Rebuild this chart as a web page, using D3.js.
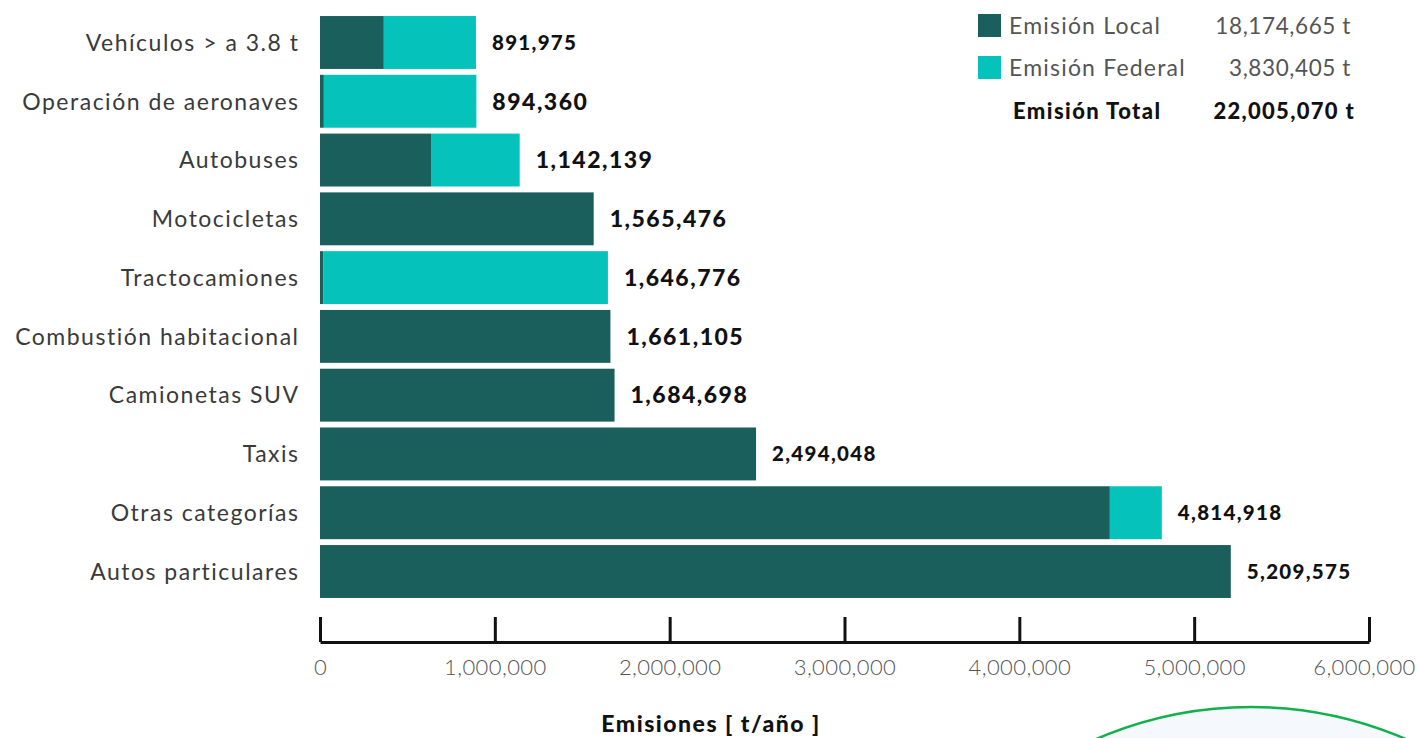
<!DOCTYPE html>
<html>
<head>
<meta charset="utf-8">
<script src="https://cdn.jsdelivr.net/npm/d3@7"></script>
<style>
  body { margin: 0; background: #fff; }
  svg { display: block; font-family: Lato, 'Open Sans', sans-serif; }
</style>
</head>
<body>
<div id="chart"></div>
<script>
// categorías, de arriba hacia abajo
const categories = [
  'Vehículos > a 3.8 t',
  'Operación de aeronaves',
  'Autobuses',
  'Motocicletas',
  'Tractocamiones',
  'Combustión habitacional',
  'Camionetas SUV',
  'Taxis',
  'Otras categorías',
  'Autos particulares'
]

// emisión total por categoría (t/año), tal como aparece en las etiquetas
const totals = [891975, 894360, 1142139, 1565476, 1646776, 1661105, 1684698, 2494048, 4814918, 5209575]

const localValues = [365000, 22000, 635000, 1565476, 20000, 1661105, 1684698, 2494048, 4517763, 5209575]
const federalValues = [526975, 872360, 507139, 0, 1626776, 0, 0, 0, 297155, 0]

const xTicks = [0, 1000000, 2000000, 3000000, 4000000, 5000000, 6000000]

const seriesNames = ['Emisión Local', 'Emisión Federal']
const colors = ['#1a5f5b', '#05c2ba']

// etiquetas que se ven con letra un poco más grande
const bigLabels = new Set(['Operación de aeronaves', 'Autobuses', 'Motocicletas', 'Tractocamiones', 'Combustión habitacional', 'Camionetas SUV'])

const W = 1419
const H = 738

const svg = d3.select('#chart')
  .append('svg')
  .attr('width', W)
  .attr('height', H)

// círculo decorativo de la esquina
svg.append('circle')
  .attr('cx', 1251)
  .attr('cy', 1097)
  .attr('r', 390)
  .attr('fill', '#f5f9fd')
  .attr('stroke', '#12b04c')
  .attr('stroke-width', 2.5)

const x = d3.scaleLinear()
  .domain([0, 6000000])
  .range([320, 1369])

const y = d3.scaleBand()
  .domain(categories)
  .range([13.1, 600.9])
  .paddingInner(0.1)
  .paddingOuter(0.05)

const rows = categories.map((c, i) => ({ category: c, local: localValues[i], federal: federalValues[i], total: totals[i] }))

const stacked = d3.stack().keys(['local', 'federal'])(rows)

// barras apiladas
svg.append('g')
  .selectAll('g')
  .data(stacked)
  .join('g')
  .attr('fill', (d, i) => colors[i])
  .selectAll('rect')
  .data(d => d)
  .join('rect')
  .attr('x', d => x(d[0]))
  .attr('y', d => y(d.data.category))
  .attr('width', d => x(d[1]) - x(d[0]))
  .attr('height', y.bandwidth())

// nombres de categorías
svg.append('g')
  .selectAll('text')
  .data(categories)
  .join('text')
  .attr('x', 299.5)
  .attr('y', d => y(d) + y.bandwidth() / 2)
  .attr('dy', '0.36em')
  .attr('text-anchor', 'end')
  .style('font-size', '23px')
  .style('letter-spacing', '1.5px')
  .style('fill', '#3a3a3a')
  .text(d => d)

// totales al final de cada barra
const fmt = d3.format(',')
svg.append('g')
  .selectAll('text')
  .data(rows)
  .join('text')
  .attr('x', d => x(d.total) + 16)
  .attr('y', d => y(d.category) + y.bandwidth() / 2)
  .attr('dy', '0.36em')
  .style('font-size', d => bigLabels.has(d.category) ? '23px' : '20.5px')
  .style('letter-spacing', d => bigLabels.has(d.category) ? '1.5px' : '1.3px')
  .style('font-weight', 900)
  .style('fill', '#111')
  .text(d => fmt(d.total))

// eje x
const xAxis = svg.append('g')
  .attr('transform', 'translate(0,642)')
  .call(d3.axisBottom(x).tickValues(xTicks).tickFormat(fmt).tickSize(-25).tickSizeOuter(0).tickPadding(17))

xAxis.selectAll('path, line')
  .attr('stroke', '#111')
  .attr('stroke-width', 3)
xAxis.select('.domain').attr('stroke-linejoin', 'round')
xAxis.selectAll('text')
  .attr('dx', (d, i) => i === xTicks.length - 1 ? -5 : 0)
  .style('font-family', 'Lato, sans-serif')
  .style('font-size', '22px')
  .style('letter-spacing', '0.4px')
  .style('font-weight', 300)
  .style('fill', '#555')

svg.append('text')
  .attr('x', 711)
  .attr('y', 732)
  .attr('text-anchor', 'middle')
  .style('font-size', '23px')
  .style('letter-spacing', '1.5px')
  .style('font-weight', 900)
  .style('fill', '#111')
  .text('Emisiones [ t/año ]')

// leyenda
const legendValues = [d3.sum(localValues), d3.sum(federalValues)]
const legend = svg.append('g')

seriesNames.forEach((name, i) => {
  const row = legend.append('g')
    .attr('transform', `translate(978, ${14 + i * 42})`)

  row.append('rect')
    .attr('width', 23)
    .attr('height', 23)
    .attr('fill', colors[i])

  row.append('text')
    .attr('x', 31)
    .attr('y', 12)
    .attr('dy', '0.36em')
    .style('font-size', '23px')
    .style('letter-spacing', '1.2px')
    .style('fill', '#555')
    .text(name)

  row.append('text')
    .attr('x', 373)
    .attr('y', 12)
    .attr('dy', '0.36em')
    .attr('text-anchor', 'end')
    .style('font-size', '22.5px')
    .style('letter-spacing', '0.6px')
    .style('fill', '#555')
    .text(fmt(legendValues[i]) + ' t')
})

const totalRow = legend.append('g')
  .attr('transform', 'translate(978, 111)')

totalRow.append('text')
  .attr('x', 35)
  .attr('dy', '0.36em')
  .style('font-size', '22px')
  .style('letter-spacing', '1.4px')
  .style('font-weight', 900)
  .style('fill', '#111')
  .text('Emisión Total')

totalRow.append('text')
  .attr('x', 377)
  .attr('dy', '0.36em')
  .attr('text-anchor', 'end')
  .style('font-size', '22px')
  .style('letter-spacing', '1.3px')
  .style('font-weight', 900)
  .style('fill', '#111')
  .text(fmt(d3.sum(totals)) + ' t')
</script>
</body>
</html>
